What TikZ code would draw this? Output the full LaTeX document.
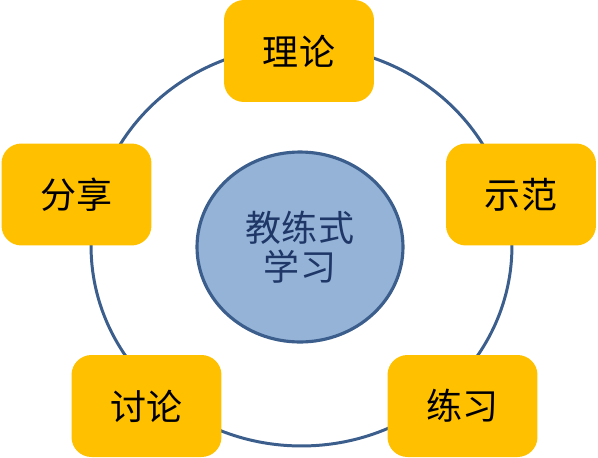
\documentclass[tikz,border=0pt]{standalone}
\usepackage{fontspec}
\usepackage{tikz}
\usetikzlibrary{shapes.geometric}
\newfontfamily\cjk{Noto Sans CJK SC}
\definecolor{boxgold}{HTML}{FFC000}
\definecolor{ringblue}{HTML}{3B5E8C}
\definecolor{hubfill}{HTML}{95B3D7}
\definecolor{hubtext}{HTML}{1F3767}

\begin{document}
\begin{tikzpicture}[x=0.02cm, y=-0.02cm,
    font=\cjk\fontsize{20.5}{22.5}\selectfont,
    stage/.style={fill=boxgold, rounded corners=0.4cm, minimum width=3cm, minimum height=2.04cm, inner sep=0pt},
    hub/.style={ellipse, draw=ringblue, line width=1.8pt, fill=hubfill, minimum width=4.12cm, minimum height=3.8cm, inner sep=0pt, text=hubtext, align=center}]
    \useasboundingbox (0,0) rectangle (598,457);
    % outer ring
    \draw [ringblue, line width=1.7pt] (301.5,246) ellipse [x radius=4.21cm, y radius=4cm];
    % centre
    \node [hub] (hub) at (300,247) {教练式\\学习};
    % the five stages
    \node [stage] (theory) at (299,51) {理论};
    \node [stage] (demo) at (521,194.5) {示范};
    \node [stage] (practice) at (462.5,406) {练习};
    \node [stage] (discuss) at (146.5,406) {讨论};
    \node [stage] (share) at (76.5,194.5) {分享};
\end{tikzpicture}
\end{document}
